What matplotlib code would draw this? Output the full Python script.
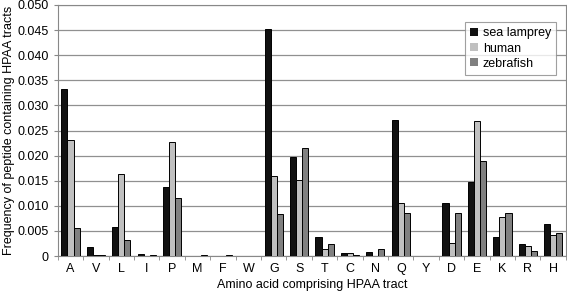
import numpy as np
import matplotlib.pyplot as plt
from matplotlib.ticker import FuncFormatter, MultipleLocator

plt.rcParams['font.family'] = ['Liberation Sans', 'DejaVu Sans']

amino = ['A', 'V', 'L', 'I', 'P', 'M', 'F', 'W', 'G', 'S', 'T', 'C', 'N', 'Q', 'Y', 'D', 'E', 'K', 'R', 'H']
lamprey = [0.0333, 0.0019, 0.0058, 0.0005, 0.0137, 0.0000, 0.0001, 0.0001, 0.0453, 0.0198,
           0.0038, 0.0006, 0.0009, 0.0270, 0.0000, 0.0106, 0.0147, 0.0038, 0.0025, 0.0063]
human = [0.0231, 0.0002, 0.0163, 0.0000, 0.0228, 0.0001, 0.0001, 0.0000, 0.0160, 0.0151,
         0.0015, 0.0006, 0.0001, 0.0105, 0.0000, 0.0027, 0.0268, 0.0077, 0.0021, 0.0041]
zebrafish = [0.0056, 0.0002, 0.0032, 0.0002, 0.0115, 0.0002, 0.0002, 0.0000, 0.0084, 0.0215,
             0.0025, 0.0002, 0.0014, 0.0085, 0.0000, 0.0085, 0.0190, 0.0085, 0.0010, 0.0045]

fig = plt.figure(figsize=(5.67, 2.91), dpi=100)
ax = fig.add_axes([0.102, 0.12, 0.896, 0.863])

x = np.arange(len(amino))
w = 0.24
ax.bar(x - w, lamprey, w, color='#111111', edgecolor='black', linewidth=0.7, label='sea lamprey', zorder=3)
ax.bar(x, human, w, color='#c0c0c0', edgecolor='black', linewidth=0.7, label='human', zorder=3)
ax.bar(x + w, zebrafish, w, color='#808080', edgecolor='black', linewidth=0.7, label='zebrafish', zorder=3)

ax.set_xlim(-0.5, len(amino) - 0.5)
ax.set_ylim(0, 0.050)
ax.yaxis.set_major_locator(MultipleLocator(0.005))
ax.yaxis.set_major_formatter(FuncFormatter(lambda v, p: '0' if v == 0 else f'{v:.3f}'))
ax.grid(axis='y', color='#909090', linewidth=0.9, zorder=0)

ax.set_xticks(x)
ax.set_xticklabels(amino)
ax.set_xticks(np.arange(-0.5, len(amino), 1), minor=True)
ax.tick_params(axis='x', which='major', length=0, pad=5, labelsize=9)
ax.tick_params(axis='x', which='minor', length=3, color='#888888')
ax.tick_params(axis='y', length=3, color='#888888', labelsize=9)

for s in ax.spines.values():
    s.set_color('#888888')
    s.set_linewidth(0.8)

ax.set_xlabel('Amino acid comprising HPAA tract', fontsize=9, labelpad=3)
ax.set_ylabel('Frequency of peptide containing HPAA tracts', fontsize=9, labelpad=2)

leg = ax.legend(loc='upper right', bbox_to_anchor=(0.993, 0.955), fontsize=9, frameon=True,
                fancybox=False, edgecolor='#888888', handlelength=0.6, handleheight=0.6,
                handletextpad=0.4, labelspacing=0.25, borderpad=0.4)
leg.get_frame().set_linewidth(0.8)
for h in leg.legend_handles:
    h.set_linewidth(0)

fig.savefig('out.png', dpi=100)
